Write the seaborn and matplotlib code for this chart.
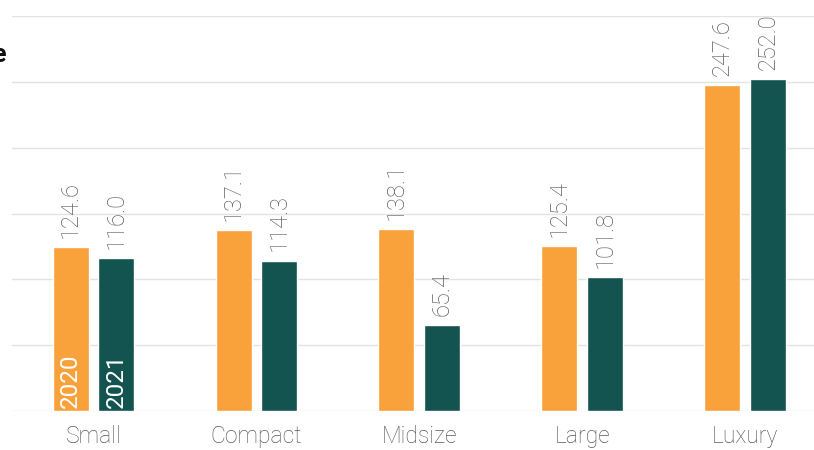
import pandas as pd
import numpy as np
import matplotlib.pyplot as plt
import seaborn as sns

categories = ["Small", "Compact", "Midsize", "Large", "Luxury"]
years = ["2020", "2021"]
values_2020 = [124.6, 137.1, 138.1, 125.4, 247.6]
values_2021 = [116.0, 114.3, 65.4, 101.8, 252.0]
colors = ["#F9A23B", "#135450"]

df = pd.DataFrame({
    "category": categories * 2,
    "year": [years[0]] * 5 + [years[1]] * 5,
    "value": values_2020 + values_2021,
})

sns.set_style("white")
plt.rcParams['font.family'] = ['Roboto', 'DejaVu Sans']

fig = plt.figure(figsize=(8.14, 4.5), dpi=100)
ax = fig.add_axes([12 / 814, 39 / 450, 802 / 814, 395 / 450])

sns.barplot(data=df, x="category", y="value", hue="year", palette=colors,
            width=0.56, gap=0.21, saturation=1, legend=False, ax=ax, zorder=3)

ax.set_ylim(0, 300)
ax.set_xlim(-0.5, 4.5 - 12.5 / 163)
ax.set_yticks(np.arange(0, 301, 50))
ax.set_yticklabels([])
ax.grid(axis="y", color="#e3e3e3", lw=1, zorder=0)
for s in ax.spines.values():
    s.set_visible(False)
ax.tick_params(axis="both", length=0)
ax.tick_params(axis="x", labelsize=16.5, labelcolor="#5a5a5a", pad=10)
for lab in ax.get_xticklabels():
    lab.set_fontweight("light")
ax.set_xlabel("")
ax.set_ylabel("")

off = 0.14
for i, (a, b) in enumerate(zip(values_2020, values_2021)):
    for dx, v in ((-off, a), (off, b)):
        ax.text(i + dx, v + 7, f"{v:.1f}", rotation=90, ha="center", va="bottom",
                fontsize=17, color="#5f5f5f", fontweight="light", clip_on=False)

for dx, y in ((-off, years[0]), (off, years[1])):
    ax.text(dx, 2, y, rotation=90, ha="center", va="bottom", fontsize=17.5,
            color="white", fontweight="normal", zorder=5)

fig.text(6 / 814, 1 - 55 / 450, "e", ha="right", va="center", fontsize=18,
         fontweight="bold", color="#111111")

fig.savefig("out.png", dpi=100)
